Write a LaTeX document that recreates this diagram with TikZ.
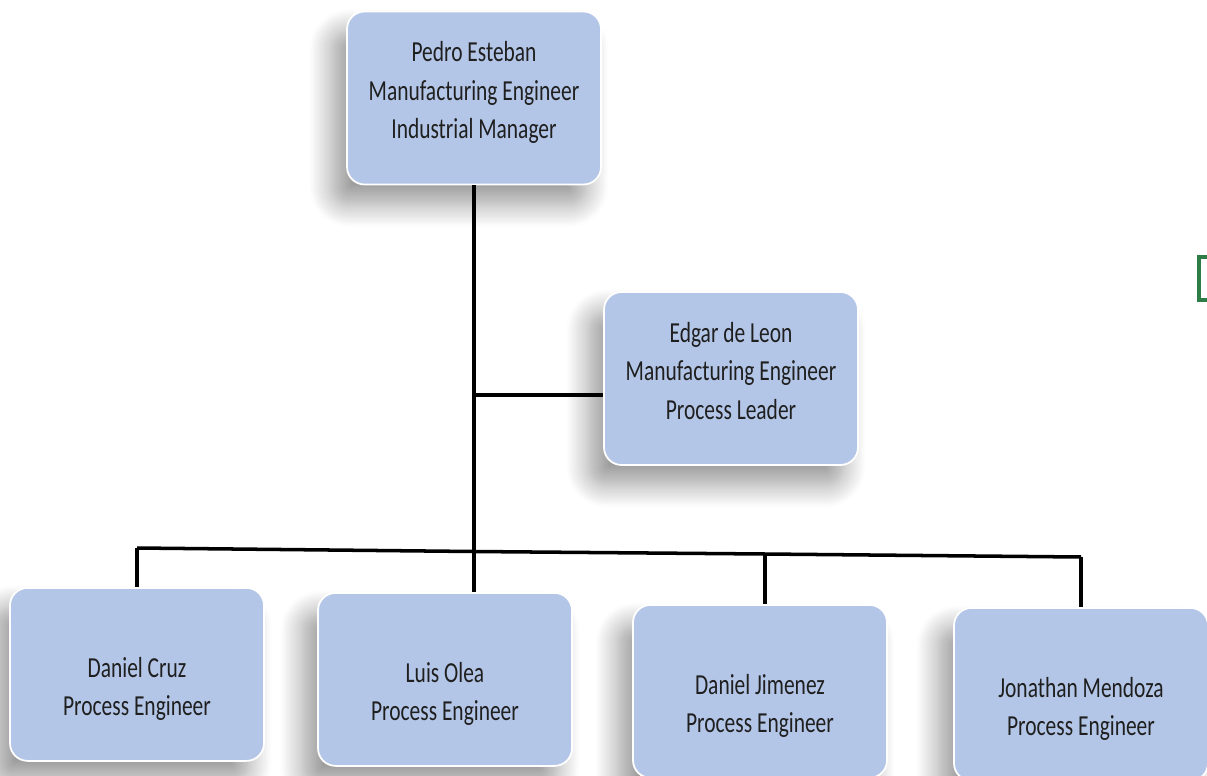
\documentclass[tikz,border=0pt]{standalone}
\usepackage{fontspec}
\setmainfont{Carlito}[FakeStretch=0.74]
\usetikzlibrary{shadows.blur}
\newcommand{\lowtxt}{\rule{0pt}{28pt}}
\begin{document}
\begin{tikzpicture}[
  font=\fontsize{16.5}{22}\selectfont,
  box/.style={draw=white, line width=1pt, fill=orgBlue, rounded corners=10pt,
    minimum width=5.08cm, minimum height=3.46cm, align=center, text=black!88,
    blur shadow={shadow xshift=-0.3cm, shadow yshift=-0.4cm, shadow blur radius=0.45cm, shadow blur steps=14, shadow opacity=40}},
  staff/.style={box, anchor=north},
  link/.style={draw=black, line width=2pt}
]
\definecolor{orgBlue}{RGB}{180,198,231}
\definecolor{markGreen}{RGB}{46,125,70}

\useasboundingbox (0,0) rectangle (24.14,-15.5);
\clip (0,0) rectangle (24.14,-15.5);

\node[box] (pedro) at (9.48,-1.96) {Pedro Esteban\\Manufacturing Engineer\\Industrial Manager\rule[-9pt]{0pt}{0pt}};
\node[box] (edgar) at (14.62,-7.57) {Edgar de Leon\\Manufacturing Engineer\\Process Leader\rule[-9pt]{0pt}{0pt}};

\node[staff] (dcruz) at (2.74,-11.74) {\lowtxt Daniel Cruz\\Process Engineer};
\node[staff] (lolea) at (8.90,-11.84) {\lowtxt Luis Olea\\Process Engineer};
\node[staff] (djimenez) at (15.20,-12.08) {\lowtxt Daniel Jimenez\\Process Engineer};
\node[staff] (jmendoza) at (21.62,-12.14) {\lowtxt Jonathan Mendoza\\Process Engineer};

\coordinate (tee) at (9.48,-7.90);
\coordinate (bus1) at (2.74,-10.96);
\coordinate (bus2) at (9.48,-11.03);
\coordinate (bus3) at (15.30,-11.08);
\coordinate (bus4) at (21.62,-11.14);

\draw[link] (pedro.south) -- (bus2);
\draw[link] (tee) -- (tee -| edgar.west);
\draw[link] (bus1) -- (bus2) -- (bus3) -- (bus4);
\draw[link] (bus1) -- (dcruz.north);
\draw[link] (bus2) -- (bus2 |- lolea.north);
\draw[link] (bus3) -- (bus3 |- djimenez.north);
\draw[link] (bus4) -- (jmendoza.north);

\draw[markGreen, line width=2pt] (23.98,-5.14) rectangle (24.6,-6.0);
\end{tikzpicture}
\end{document}
